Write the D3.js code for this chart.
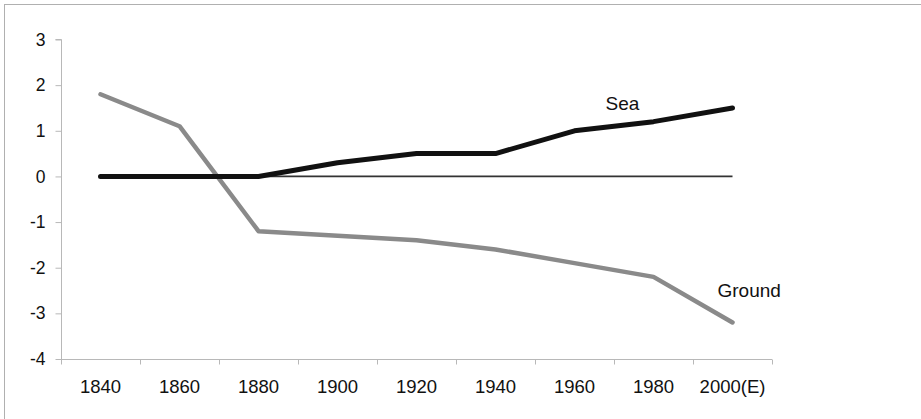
<!DOCTYPE html>
<html>
<head>
<meta charset="utf-8">
<script src="https://cdn.jsdelivr.net/npm/d3@7"></script>
<style>
  html, body { margin: 0; padding: 0; background: #fff; }
  svg { display: block; }
  text { font-family: "Liberation Sans", Arial, Helvetica, sans-serif; fill: #111; }
</style>
</head>
<body>
<svg id="chart" width="921" height="419"></svg>
<script>
const categories = ["1840", "1860", "1880", "1900", "1920", "1940", "1960", "1980", "2000(E)"];
const seaValues = [0, 0, 0, 0.3, 0.5, 0.5, 1.0, 1.2, 1.5];
const groundValues = [1.8, 1.1, -1.2, -1.3, -1.4, -1.6, -1.9, -2.2, -3.2];
const zeroValues = [0, 0, 0, 0, 0, 0, 0, 0, 0];
const yTicks = [3, 2, 1, 0, -1, -2, -3, -4];

(function () {
const svg = d3.select("#chart");

// outer frame
svg.append("rect")
  .attr("x", 4.5).attr("y", 4.5)
  .attr("width", 1200).attr("height", 1200)
  .attr("fill", "none").attr("stroke", "#b0b0b0").attr("stroke-width", 1);

const mLeft = 61, mRight = 772, mTop = 39.5, mBottom = 359;

const x = d3.scaleBand().domain(categories).range([mLeft, mRight]).padding(0);
const y = d3.scaleLinear().domain([-4, 3]).range([mBottom, mTop]);

// Y axis
const yAxis = svg.append("g")
  .attr("transform", `translate(${mLeft + 0.5},0)`)
  .call(d3.axisLeft(y).tickValues(yTicks).tickSize(6).tickPadding(10).tickFormat(d => String(d)));
yAxis.select(".domain").attr("stroke", "#b8b8b8").attr("d", `M-6,${y(3)}H0V${y(-4)}`);
yAxis.selectAll(".tick line").attr("stroke", "#b8b8b8");
yAxis.selectAll(".tick text").attr("font-size", 17.5).style("fill", "#111")
  .attr("font-family", "Liberation Sans, Arial, sans-serif");

// X axis
const xAxis = svg.append("g")
  .attr("transform", `translate(0,${mBottom + 0.5})`)
  .call(d3.axisBottom(x).tickSize(0).tickPadding(0));
xAxis.select(".domain").attr("stroke", "#b8b8b8").attr("d", `M${mLeft},0H${mRight}`);
xAxis.selectAll(".tick line").remove();
xAxis.selectAll(".tick text")
  .attr("y", 33).attr("dy", 0)
  .attr("font-size", 18.5).style("fill", "#111")
  .attr("font-family", "Liberation Sans, Arial, sans-serif");
// boundary ticks
const bounds = categories.map(c => x(c)).concat([x(categories[categories.length - 1]) + x.bandwidth()]);
xAxis.selectAll(".btick").data(bounds).enter().append("line")
  .attr("class", "btick")
  .attr("x1", d => Math.round(d) + 0.5).attr("x2", d => Math.round(d) + 0.5)
  .attr("y1", 0).attr("y2", 5)
  .attr("stroke", "#b8b8b8");

const cx = c => x(c) + x.bandwidth() / 2;

const lineGen = vals => d3.line()
  .x((d, i) => cx(categories[i]))
  .y(d => y(d))(vals);

// zero line
svg.append("path")
  .attr("d", lineGen(zeroValues))
  .attr("fill", "none").attr("stroke", "#333").attr("stroke-width", 1.8);

// Ground
svg.append("path")
  .attr("d", lineGen(groundValues))
  .attr("fill", "none").attr("stroke", "#8a8a8a").attr("stroke-width", 4.5)
  .attr("stroke-linejoin", "round").attr("stroke-linecap", "round");

// Sea
svg.append("path")
  .attr("d", lineGen(seaValues))
  .attr("fill", "none").attr("stroke", "#111").attr("stroke-width", 5)
  .attr("stroke-linejoin", "round").attr("stroke-linecap", "round");

// labels
svg.append("text")
  .attr("x", cx("1960") + 31).attr("y", y(1.5) + 2.5)
  .attr("font-size", 19).text("Sea");
svg.append("text")
  .attr("x", cx("2000(E)") - 15).attr("y", y(-2.65))
  .attr("font-size", 19).text("Ground");
})();
</script>
</body>
</html>
